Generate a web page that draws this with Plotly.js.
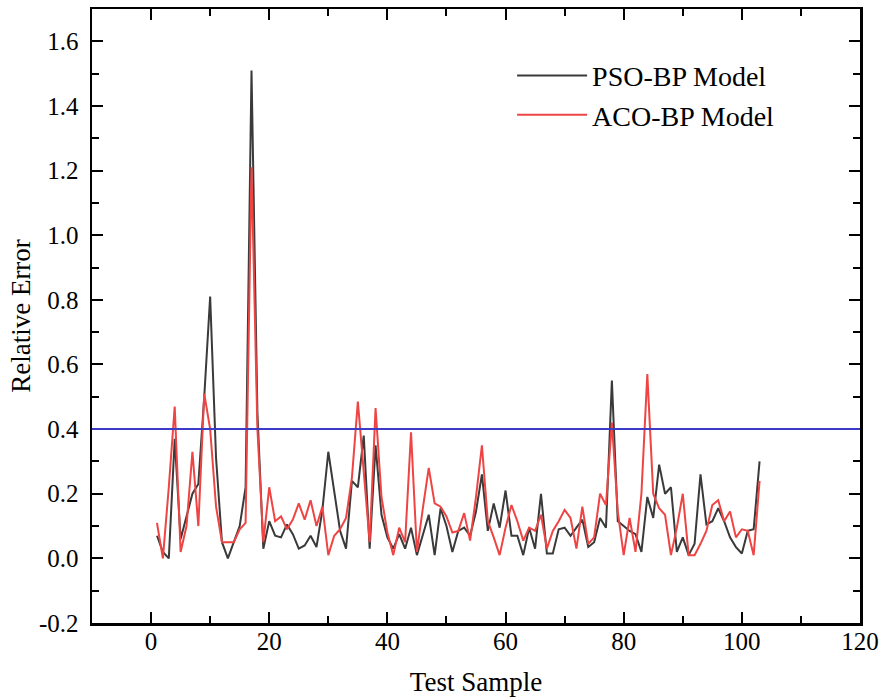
<!DOCTYPE html>
<html>
<head>
<meta charset="utf-8">
<script src="https://cdn.plot.ly/plotly-3.0.1.min.js"></script>
<style>html,body{margin:0;padding:0;background:#fff;}#chart{width:883px;height:699px;}</style>
</head>
<body>
<div id="chart"></div>
<script>
const samples = [1,2,3,4,5,6,7,8,9,10,11,12,13,14,15,16,17,18,19,20,21,22,23,24,25,26,27,28,29,30,31,32,33,34,35,36,37,38,39,40,41,42,43,44,45,46,47,48,49,50,51,52,53,54,55,56,57,58,59,60,61,62,63,64,65,66,67,68,69,70,71,72,73,74,75,76,77,78,79,80,81,82,83,84,85,86,87,88,89,90,91,92,93,94,95,96,97,98,99,100,101,102,103];

const psoError = [0.07,0.02,0.00,0.37,0.06,0.13,0.20,0.23,0.50,0.81,
  0.31,0.05,0.00,0.05,0.10,0.22,1.51,0.45,0.03,0.115,
  0.07,0.065,0.105,0.075,0.03,0.04,0.07,0.035,0.15,0.33,
  0.21,0.085,0.03,0.24,0.22,0.38,0.03,0.35,0.135,0.065,
  0.03,0.075,0.03,0.095,0.01,0.075,0.135,0.01,0.155,0.10,
  0.02,0.085,0.095,0.07,0.145,0.26,0.085,0.17,0.095,0.21,
  0.07,0.07,0.01,0.095,0.03,0.20,0.015,0.015,0.09,0.095,
  0.07,0.095,0.12,0.035,0.05,0.125,0.095,0.55,0.115,0.10,
  0.085,0.075,0.02,0.19,0.125,0.29,0.20,0.22,0.02,0.065,
  0.01,0.045,0.26,0.105,0.115,0.155,0.115,0.065,0.035,0.015,
  0.085,0.09,0.30];

const acoError = [0.11,0.00,0.22,0.47,0.02,0.10,0.33,0.10,0.51,0.40,
  0.16,0.05,0.05,0.05,0.09,0.11,1.21,0.40,0.05,0.22,
  0.115,0.13,0.09,0.12,0.17,0.12,0.18,0.10,0.16,0.01,
  0.07,0.09,0.125,0.25,0.485,0.28,0.05,0.465,0.19,0.08,
  0.01,0.095,0.05,0.39,0.02,0.155,0.28,0.17,0.16,0.13,
  0.08,0.085,0.14,0.055,0.19,0.35,0.115,0.065,0.01,0.095,
  0.165,0.115,0.055,0.095,0.085,0.135,0.03,0.085,0.115,0.15,
  0.125,0.03,0.16,0.045,0.065,0.20,0.165,0.42,0.145,0.01,
  0.125,0.02,0.20,0.57,0.20,0.155,0.135,0.01,0.095,0.20,
  0.01,0.01,0.045,0.085,0.165,0.18,0.115,0.145,0.065,0.09,
  0.085,0.01,0.24];

const threshold = 0.4;

const xTickVals = [0,20,40,60,80,100,120];
const xTickText = ['0','20','40','60','80','100','120'];
const yTickVals = [-0.2,0,0.2,0.4,0.6,0.8,1.0,1.2,1.4,1.6];
const yTickText = ['-0.2','0.0','0.2','0.4','0.6','0.8','1.0','1.2','1.4','1.6'];

const seriesNames = ['PSO-BP Model','ACO-BP Model'];

const FONT = '"Liberation Serif", "Times New Roman", Times, serif';

const traces = [
  {x: samples, y: psoError, mode: 'lines', name: seriesNames[0],
   line: {color: '#3a3a3a', width: 2}},
  {x: samples, y: acoError, mode: 'lines', name: seriesNames[1],
   line: {color: '#ef4444', width: 2}},
  {x: [], y: [], xaxis: 'x2', yaxis: 'y', mode: 'lines', showlegend: false, hoverinfo: 'skip'}
];

const axisCommon = {
  showline: true, linewidth: 2.5, linecolor: '#000', mirror: 'ticks',
  ticks: 'inside', ticklen: 11, tickwidth: 2, tickcolor: '#000',
  showgrid: false, zeroline: false,
  tickfont: {family: FONT, size: 25, color: '#000'}
};

const layout = {
  width: 883, height: 699,
  margin: {l: 92, r: 23, t: 9, b: 76},
  paper_bgcolor: '#fff', plot_bgcolor: '#fff',
  font: {family: FONT, color: '#000'},
  showlegend: true,
  legend: {x: 0.547, y: 0.932, xanchor: 'left', yanchor: 'top',
    bgcolor: 'rgba(0,0,0,0)', borderwidth: 0, itemwidth: 70,
    font: {family: FONT, size: 28, color: '#000'}, tracegroupgap: 0},
  xaxis: Object.assign({}, axisCommon, {
    range: [-10, 120], tickmode: 'array', tickvals: xTickVals, ticktext: xTickText,
    showticklabels: false,
    minor: {dtick: 10, tick0: 0, ticks: 'inside', ticklen: 7, tickwidth: 2, tickcolor: '#000', showgrid: false},
    title: {text: 'Test Sample', font: {family: FONT, size: 27, color: '#000'}, standoff: 48}
  }),
  xaxis2: {
    overlaying: 'x', anchor: 'free', position: 0, side: 'bottom',
    range: [-10, 120], tickmode: 'array', tickvals: xTickVals, ticktext: xTickText,
    showline: false, ticks: '', showgrid: false, zeroline: false, ticklabelstandoff: 1,
    tickfont: {family: FONT, size: 25, color: '#000'}
  },
  yaxis: Object.assign({}, axisCommon, {
    range: [-0.2, 1.7], tickmode: 'array', tickvals: yTickVals, ticktext: yTickText,
    ticklabelstandoff: 6,
    minor: {dtick: 0.1, tick0: 0, ticks: 'inside', ticklen: 7, tickwidth: 2, tickcolor: '#000', showgrid: false},
    title: {text: 'Relative Error', font: {family: FONT, size: 27, color: '#000'}, standoff: 1}
  }),
  shapes: [{type: 'line', xref: 'paper', x0: 0, x1: 1, yref: 'y', y0: threshold, y1: threshold,
    line: {color: '#3b3bc8', width: 2}}]
};

Plotly.newPlot('chart', traces, layout, {staticPlot: true, displayModeBar: false});
</script>
</body>
</html>
